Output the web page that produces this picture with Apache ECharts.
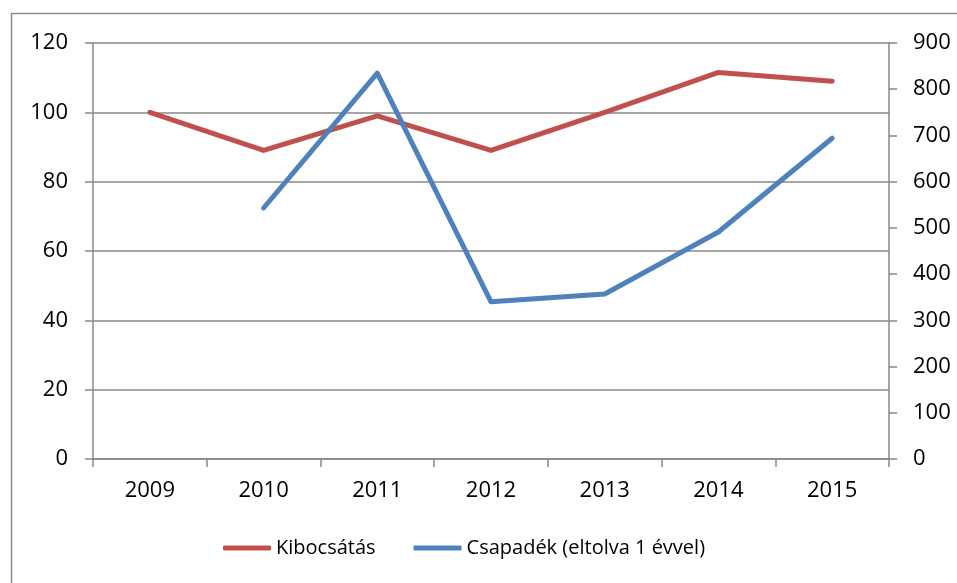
<!DOCTYPE html>
<html>
<head>
<meta charset="utf-8">
<script src="https://cdn.jsdelivr.net/npm/echarts@6/dist/echarts.min.js"></script>
<style>
html,body{margin:0;padding:0;background:#fff;}
#main{width:957px;height:583px;}
</style>
</head>
<body>
<div id="main"></div>
<script>
// adatok
var years = ['2009', '2010', '2011', '2012', '2013', '2014', '2015'];
var kibocsatas = [100, 89, 99, 89, 100, 111.5, 109];
var csapadek = [null, 543, 835, 340, 357, 491, 694];
var leftTicks = [0, 20, 40, 60, 80, 100, 120];
var rightTicks = [0, 100, 200, 300, 400, 500, 600, 700, 800, 900];

var chartDom = document.getElementById('main');
var myChart = echarts.init(chartDom);
var font = 'Open Sans';
var gray = '#888888';
var option;

option = {
    animation: false,
    textStyle: { fontFamily: font },
    graphic: [{
        type: 'rect',
        shape: { x: 11.5, y: 13.5, width: 960, height: 590 },
        style: { fill: 'none', stroke: '#8c8c8c', lineWidth: 1.5 }
    }],
    grid: { left: 93, right: 68, top: 43, bottom: 124 },
    legend: {
        bottom: 20,
        left: 218,
        itemWidth: 48,
        itemHeight: 5,
        itemGap: 38,
        textStyle: { fontSize: 20, color: '#000', fontFamily: font },
        data: [
            { name: 'Kibocsátás', icon: 'roundRect' },
            { name: 'Csapadék (eltolva 1 évvel)', icon: 'roundRect' }
        ]
    },
    xAxis: [{
        type: 'category',
        data: years,
        boundaryGap: true,
        axisLine: { lineStyle: { color: gray, width: 1.5 } },
        axisTick: { show: true, length: 8, inside: false, lineStyle: { color: gray, width: 1.5 } },
        axisLabel: { fontSize: 22, color: '#000', margin: 21 }
    }],
    yAxis: [{
        type: 'value',
        min: 0, max: 120, interval: 20,
        axisLine: { show: true, lineStyle: { color: gray, width: 1.5 } },
        axisTick: { show: true, length: 8, lineStyle: { color: gray, width: 1.5 } },
        axisLabel: { fontSize: 22, color: '#000', margin: 25 },
        splitLine: { show: true, lineStyle: { color: gray, width: 1.5 } }
    }, {
        type: 'value',
        min: 0, max: 900, interval: 100,
        position: 'right',
        axisLine: { show: true, lineStyle: { color: gray, width: 1.5 } },
        axisTick: { show: true, length: 8, lineStyle: { color: gray, width: 1.5 } },
        axisLabel: { fontSize: 22, color: '#000', margin: 24 },
        splitLine: { show: false }
    }],
    series: [{
        name: 'Kibocsátás',
        type: 'line',
        yAxisIndex: 0,
        data: kibocsatas,
        symbol: 'none',
        color: '#C0504D',
        lineStyle: { width: 5, cap: 'round', join: 'round' }
    }, {
        name: 'Csapadék (eltolva 1 évvel)',
        type: 'line',
        yAxisIndex: 1,
        data: csapadek,
        symbol: 'none',
        color: '#4F81BD',
        lineStyle: { width: 5, cap: 'round', join: 'round' }
    }]
};
option && myChart.setOption(option);
</script>
</body>
</html>
